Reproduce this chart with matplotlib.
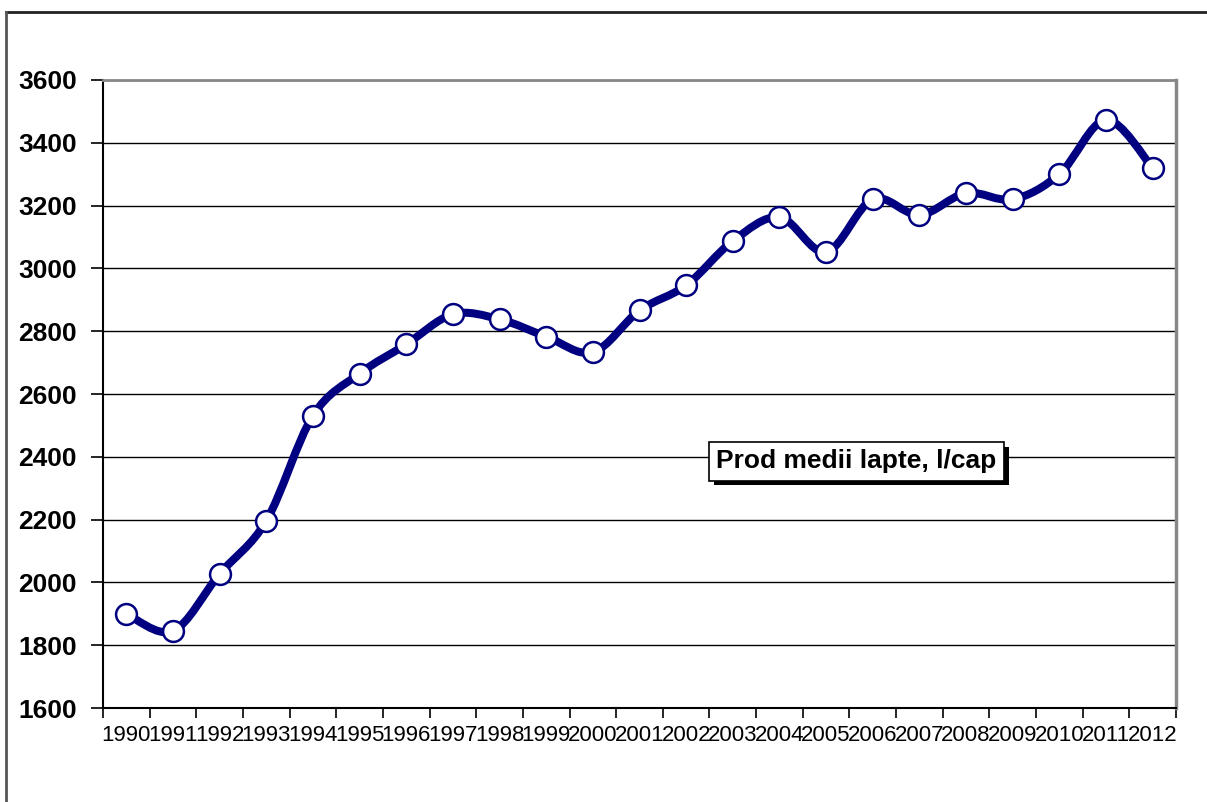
import matplotlib
matplotlib.use("Agg")
import matplotlib.pyplot as plt
import numpy as np
from matplotlib.path import Path
from matplotlib.patches import PathPatch
from matplotlib.lines import Line2D
import matplotlib.patheffects as pe

# productia medie de lapte pe cap (l/cap), 1990-2012
ani = [str(a) for a in range(1990, 2013)]
lapte = [1900, 1845, 2027, 2196, 2531, 2665, 2758, 2854, 2838, 2783, 2733,
         2866, 2946, 3087, 3163, 3052, 3220, 3170, 3240, 3220, 3300, 3473, 3320]
eticheta = "Prod medii lapte, l/cap"

plt.rcParams['font.family'] = ['Liberation Sans', 'DejaVu Sans']

fig = plt.figure(figsize=(12.07, 8.02), dpi=100)
ax = fig.add_axes([103/1207, 1 - 708/802, (1176 - 103)/1207, (708 - 80)/802])

x = np.arange(len(lapte))
y = np.array(lapte, dtype=float)

# curba netezita (bezier cubic prin fiecare punct, ca in Excel)
pts = np.column_stack([x, y])
ext = np.vstack([pts[0], pts, pts[-1]])
verts = [pts[0]]
codes = [Path.MOVETO]
for i in range(len(pts) - 1):
    p0, p1, p2, p3 = ext[i], ext[i + 1], ext[i + 2], ext[i + 3]
    c1 = p1 + (p2 - p0) / 6.0
    c2 = p2 - (p3 - p1) / 6.0
    verts += [c1, c2, p2]
    codes += [Path.CURVE4] * 3
curba = PathPatch(Path(verts, codes), facecolor='none', edgecolor='#000080',
                  lw=5.8, capstyle='round', joinstyle='round', zorder=3)
ax.add_patch(curba)
ax.plot(x, y, 'o', ms=15, mfc='white', mec='#000080', mew=1.8, zorder=4)

ax.set_xlim(-0.5, len(lapte) - 0.5)
ax.set_ylim(1600, 3600)
ax.set_yticks(range(1600, 3601, 200))
ax.grid(axis='y', color='black', lw=1)
ax.set_axisbelow(True)

ax.set_xticks(np.arange(-0.5, len(lapte)), labels=[])
ax.set_xticks(x, labels=ani, minor=True)
ax.tick_params(axis='x', which='major', direction='out', length=7, width=1.2, color='black')
ax.tick_params(axis='x', which='minor', length=0, labelsize=16, pad=12)
ax.tick_params(axis='y', direction='out', length=9, width=1.2, labelsize=19, pad=10)
for t in ax.get_yticklabels():
    t.set_fontweight('bold')

ax.spines['left'].set_color('black')
ax.spines['left'].set_linewidth(1.5)
ax.spines['bottom'].set_color('black')
ax.spines['bottom'].set_linewidth(1.5)
ax.spines['top'].set_color('#888888')
ax.spines['top'].set_linewidth(2)
ax.spines['right'].set_color('#888888')
ax.spines['right'].set_linewidth(2.5)

txt = ax.text(0.702, 0.393, eticheta, transform=ax.transAxes, ha='center', va='center',
              fontsize=19, fontweight='bold', zorder=5,
              bbox=dict(boxstyle='square,pad=0.28', fc='white', ec='black', lw=1.2))
txt.get_bbox_patch().set_path_effects([
    pe.SimplePatchShadow(offset=(3.5, -3.5), shadow_rgbFace='black', alpha=1.0),
    pe.Normal()])

# chenarul graficului
fig.add_artist(Line2D([5.5/1207, 1], [1 - 11.5/802] * 2, transform=fig.transFigure,
                      color='#222222', lw=2))
fig.add_artist(Line2D([5.5/1207] * 2, [0, 1 - 11.5/802], transform=fig.transFigure,
                      color='#555555', lw=2))

fig.savefig("out.png", dpi=100)
